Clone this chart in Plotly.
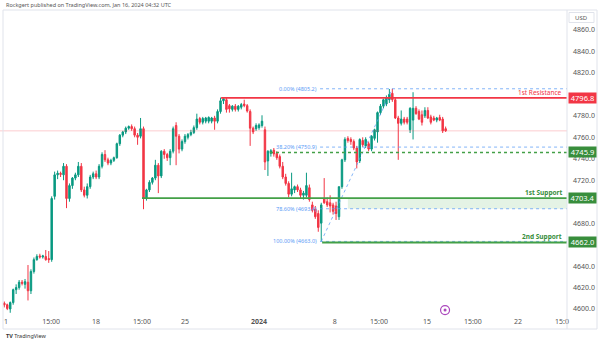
import plotly.graph_objects as go

# ---------------- data (4H candles) ----------------
opens = [4605.5, 4604, 4600, 4606, 4618, 4620, 4625, 4623, 4625, 4617,
         4635, 4646, 4649.5, 4648.5, 4649, 4647, 4646, 4705, 4725, 4726.5,
         4725, 4733, 4703, 4715, 4722, 4725, 4733, 4711, 4706, 4714,
         4723, 4726, 4723, 4733, 4744, 4739, 4736, 4738.5, 4741, 4754,
         4762, 4765, 4768.5, 4770, 4768, 4762, 4761, 4768, 4703, 4711,
         4718, 4722, 4734, 4724, 4747, 4744, 4741, 4747, 4771, 4761,
         4749, 4756, 4760, 4762.5, 4764.5, 4769, 4777.5, 4774, 4775, 4775,
         4775, 4778, 4775, 4784, 4794, 4795, 4789.5, 4786, 4789, 4786,
         4788, 4791, 4789.5, 4784, 4768.5, 4768, 4769, 4771, 4767, 4738,
         4745, 4748, 4745, 4742, 4733, 4723, 4717, 4707, 4711, 4714,
         4711, 4706, 4706, 4713, 4697, 4693, 4689, 4680, 4703, 4700,
         4699, 4697, 4696, 4686, 4714, 4739, 4759, 4758, 4756, 4750,
         4738, 4757, 4752, 4754, 4749, 4759, 4765, 4783, 4789, 4791,
         4795, 4801, 4795, 4778, 4773, 4777, 4777, 4767, 4776, 4787,
         4784, 4781, 4780, 4785, 4779, 4778, 4776, 4778.5, 4777, 4768]
highs = [4607, 4605, 4607, 4619, 4623, 4627, 4627, 4628, 4641, 4637,
         4648, 4651, 4651.5, 4650.5, 4655, 4654, 4705, 4728, 4729, 4728,
         4736, 4735, 4717, 4723, 4727, 4737, 4736, 4714, 4717, 4725,
         4728, 4729, 4735, 4746, 4748, 4741, 4740, 4742, 4755, 4763,
         4766, 4770, 4771, 4772, 4770, 4764, 4778, 4770, 4712, 4720,
         4723, 4739, 4736, 4748, 4749, 4745.5, 4749, 4770, 4774, 4763,
         4758, 4763, 4764, 4767, 4771, 4782, 4779, 4779, 4779, 4779.5,
         4779, 4780, 4786, 4797, 4797, 4797, 4791, 4790, 4791, 4790,
         4792, 4795, 4791, 4786, 4770, 4773, 4773, 4780.5, 4770, 4748,
         4749, 4750, 4747, 4744, 4737, 4726, 4719, 4727, 4715, 4716,
         4713, 4710, 4727, 4716, 4700, 4696, 4692, 4699, 4722, 4704,
         4706, 4699, 4700, 4714, 4740, 4760, 4761, 4760, 4758, 4752,
         4759, 4760, 4760, 4756, 4762, 4768, 4784, 4791, 4796, 4799,
         4805, 4805.2, 4797, 4780, 4785, 4779, 4779, 4788, 4802, 4789,
         4786, 4785, 4788, 4788, 4781, 4780, 4779, 4781, 4779, 4770]
lows = [4601.5, 4599, 4596.5, 4604, 4614, 4618, 4622, 4619, 4608, 4614,
        4633, 4645, 4647, 4647, 4645, 4643, 4644, 4702, 4721, 4723,
        4720, 4694, 4700, 4712, 4720, 4723, 4709, 4704, 4703, 4712,
        4721, 4721, 4721, 4731, 4737, 4734, 4734, 4737, 4740, 4752,
        4760, 4763, 4767, 4766, 4760, 4753, 4759, 4693, 4701, 4709,
        4716, 4720, 4708, 4722, 4740, 4738, 4734, 4745, 4734, 4745,
        4747, 4754, 4758, 4761, 4763, 4767, 4772, 4772, 4773, 4773,
        4773, 4767, 4773, 4782, 4791, 4783, 4783, 4784, 4784, 4784,
        4786, 4788, 4783, 4752, 4763, 4766, 4767, 4769, 4729.5, 4724,
        4742, 4742, 4739, 4731, 4721, 4715, 4704, 4705, 4708, 4709,
        4703, 4702, 4704, 4700, 4690, 4684, 4672, 4663.0, 4698, 4695,
        4690, 4688, 4683, 4683, 4712, 4737, 4755, 4753, 4748, 4731,
        4736, 4751, 4750, 4747, 4747, 4757, 4755, 4781, 4787, 4789,
        4792, 4793, 4777, 4739, 4771, 4772, 4772, 4764, 4758, 4781,
        4776, 4771, 4778, 4777, 4772, 4775, 4774, 4775, 4764, 4765]
closes = [4603.7, 4600.5, 4606, 4618, 4620, 4625, 4624, 4625.5, 4617, 4635,
          4646, 4649, 4648.5, 4649.5, 4646, 4646, 4703, 4725, 4726.5, 4725.5,
          4733, 4703, 4715, 4722, 4725, 4733, 4711, 4706, 4714, 4723,
          4726, 4723, 4733, 4744, 4739, 4736, 4738.5, 4741, 4754, 4762,
          4765, 4768.5, 4770, 4768, 4762, 4760, 4768, 4703, 4711, 4718,
          4722, 4734, 4724, 4747, 4744, 4741, 4747, 4768, 4761, 4749,
          4756, 4761, 4762.5, 4764.5, 4769, 4777, 4774, 4777.5, 4778, 4778.5,
          4778, 4775, 4784, 4794, 4796, 4786, 4786.5, 4789, 4786, 4789,
          4790.5, 4789.5, 4784.5, 4768.5, 4765, 4771, 4771.5, 4775, 4737, 4747,
          4747.5, 4744.5, 4741, 4733, 4723, 4717, 4707, 4712, 4714, 4711,
          4706, 4708, 4715, 4702, 4692, 4686, 4676, 4697, 4699, 4697,
          4696, 4691, 4689, 4714, 4739, 4758, 4757, 4756, 4750, 4737,
          4758, 4753, 4758, 4749, 4761, 4767, 4783, 4789, 4795, 4797,
          4800, 4795, 4778, 4773, 4777, 4774, 4774, 4787, 4787, 4782,
          4777, 4774, 4785, 4778, 4774, 4776, 4778, 4776, 4766, 4766]
candle_index = list(range(len(opens)))

# time-axis labels (positions in candle units)
time_tick_pos = [0.6, 15.8, 31.0, 46.5, 61.0, 86.0, 111.6, 126.5, 142.7, 158.2, 173.4, 188.3]
time_tick_text = ["1", "15:00", "18", "15:00", "25", "<b>2024</b>", "8", "15:00",
                  "15", "15:00", "22", "15:0"]
# price labels visible on the scale (4660, 4700, 4800 are covered by level tags)
price_ticks = [4600, 4620, 4640, 4680, 4720, 4740, 4760, 4780, 4820, 4840, 4860]

# analysis levels
resistance_level, resistance_start = 4796.8, 73.2
support1_level, support1_start = 4703.4, 46.5
support2_level, support2_start = 4662.0, 107.3
pivot_level, pivot_start = 4745.9, 89.7
fib_low_candle, fib_high_candle = 107, 131
fib_ratios = [0.0, 0.382, 0.786, 1.0]
fib_line_start, fib_label_x = 106.6, 106.2
zone_start = 116.0
event_x, event_y = [148.8], [4599.0]

X_RANGE = [-1.45, 189.97]
Y_RANGE = [4593.5, 4878.6]

GREEN_C, RED_C = "#089981", "#F23645"
SUP_C, SUP_BOX = "#43A047", "#388E3C"
FIB_C = "#5B9CF6"
FONT = "Noto Sans"

fig = go.Figure()
fig.add_trace(go.Candlestick(
    x=candle_index, open=opens, high=highs, low=lows, close=closes,
    increasing=dict(line=dict(color=GREEN_C, width=1), fillcolor=GREEN_C),
    decreasing=dict(line=dict(color=RED_C, width=1), fillcolor=RED_C),
    whiskerwidth=0, showlegend=False, hoverinfo="skip"))

fig.add_trace(go.Scatter(
    x=event_x, y=event_y, mode="markers",
    marker=dict(symbol="circle", size=9, color="white",
                line=dict(color="#AB47BC", width=1.2)),
    showlegend=False, hoverinfo="skip"))
fig.add_trace(go.Scatter(
    x=event_x, y=event_y, mode="markers",
    marker=dict(symbol="circle", size=3, color="#AB47BC"),
    showlegend=False, hoverinfo="skip"))

shapes = []
x_end = X_RANGE[1]
# last price line
shapes.append(dict(type="line", xref="x", yref="y", x0=X_RANGE[0], x1=x_end,
                   y0=closes[-1], y1=closes[-1],
                   line=dict(color="rgba(242,54,69,0.25)", width=1)))

fib_high = highs[fib_high_candle]
fib_low = lows[fib_low_candle]
fib_vals = [fib_high - r * (fib_high - fib_low) for r in fib_ratios]

# zone between 78.6% and 1st support
shapes.append(dict(type="rect", xref="x", yref="y", x0=zone_start, x1=x_end,
                   y0=fib_vals[2], y1=support1_level,
                   fillcolor="rgba(76,175,80,0.15)", line=dict(width=0), layer="below"))
for v in fib_vals:
    shapes.append(dict(type="line", xref="x", yref="y", x0=fib_line_start, x1=x_end,
                       y0=v, y1=v, line=dict(color="rgba(91,156,246,0.75)", width=1, dash="dot")))
shapes.append(dict(type="line", xref="x", yref="y", x0=fib_low_candle, x1=fib_high_candle,
                   y0=fib_low, y1=fib_high,
                   line=dict(color="rgba(91,156,246,0.75)", width=1, dash="dot")))
shapes.append(dict(type="line", xref="x", yref="y", x0=resistance_start, x1=x_end,
                   y0=resistance_level, y1=resistance_level, line=dict(color=RED_C, width=1.8)))
shapes.append(dict(type="line", xref="x", yref="y", x0=support1_start, x1=x_end,
                   y0=support1_level, y1=support1_level, line=dict(color=SUP_C, width=1.8)))
shapes.append(dict(type="line", xref="x", yref="y", x0=support2_start, x1=x_end,
                   y0=support2_level, y1=support2_level, line=dict(color=SUP_C, width=1.8)))
shapes.append(dict(type="line", xref="x", yref="y", x0=pivot_start, x1=x_end,
                   y0=pivot_level, y1=pivot_level, line=dict(color=SUP_C, width=1.5, dash="dot")))

# frame
PW, PH, PT = 567.0, 306.0, 10.0
def px(xp):
    return xp / PW
def py(yp):
    return (PT + PH - yp) / PH
shapes.append(dict(type="rect", xref="paper", yref="paper", x0=px(3), x1=px(597),
                   y0=py(329), y1=py(10), line=dict(color="#E0E3EB", width=1)))
shapes.append(dict(type="line", xref="paper", yref="paper", x0=1, x1=1,
                   y0=py(329), y1=py(10), line=dict(color="#E0E3EB", width=1)))
shapes.append(dict(type="rect", xref="paper", yref="paper", x0=px(569), x1=px(594),
                   y0=py(22.5), y1=py(12.5), line=dict(color="#E0E3EB", width=1)))

ann = []
def price_box(v, color):
    ann.append(dict(xref="paper", yref="y", x=1, y=v, xanchor="left", yanchor="middle",
                    xshift=1, text=f"{v:.1f}", showarrow=False, bgcolor=color,
                    font=dict(color="white", size=7.5, family=FONT),
                    width=27, height=10, borderpad=0))
price_box(resistance_level, RED_C)
price_box(pivot_level, SUP_BOX)
price_box(support1_level, SUP_BOX)
price_box(support2_level, SUP_BOX)

def level_label(text, v, color):
    ann.append(dict(xref="paper", yref="y", x=1, y=v, xanchor="right", yanchor="bottom",
                    xshift=-3, yshift=-1, text=text, showarrow=False,
                    font=dict(color=color, size=6.5, family=FONT)))
level_label("1st Resistance", resistance_level, RED_C)
level_label("<b>1st Support</b>", support1_level, SUP_BOX)
level_label("<b>2nd Support</b>", support2_level, SUP_BOX)

for r, v in zip(fib_ratios, fib_vals):
    ann.append(dict(xref="x", yref="y", x=fib_label_x, y=v, xanchor="right", yanchor="middle",
                    text=f"{r*100:.2f}% ({v:.1f})", showarrow=False,
                    font=dict(color=FIB_C, size=5.5, family=FONT)))

ann.append(dict(xref="paper", yref="paper", x=px(4), y=py(4.5), xanchor="left", yanchor="middle",
                text="Rockgert published on TradingView.com, Jan 16, 2024 04:32 UTC",
                showarrow=False, font=dict(color="#555555", size=5.5, family=FONT)))
ann.append(dict(xref="paper", yref="paper", x=px(581.5), y=py(17.5), xanchor="center",
                yanchor="middle", text="USD", showarrow=False,
                font=dict(color="#555555", size=6, family=FONT)))
ann.append(dict(xref="paper", yref="paper", x=px(4), y=py(336), xanchor="left", yanchor="middle",
                text="<b>TV</b> TradingView", showarrow=False,
                font=dict(color="#333333", size=5.5, family=FONT)))

fig.update_layout(
    width=600, height=344,
    margin=dict(l=0, r=33, t=10, b=28),
    paper_bgcolor="white", plot_bgcolor="white",
    shapes=shapes, annotations=ann,
    xaxis=dict(range=X_RANGE, showgrid=False, zeroline=False, showline=False,
               tickvals=time_tick_pos, ticktext=time_tick_text, ticks="",
               tickfont=dict(size=7, color="#555555", family=FONT),
               rangeslider=dict(visible=False), fixedrange=True),
    yaxis=dict(range=Y_RANGE, side="right", showgrid=False, zeroline=False, showline=False,
               tickvals=price_ticks, tickformat=".1f", ticks="", ticklabelstandoff=5,
               tickfont=dict(size=7, color="#555555", family=FONT), fixedrange=True),
)

fig.write_html("out.html")
